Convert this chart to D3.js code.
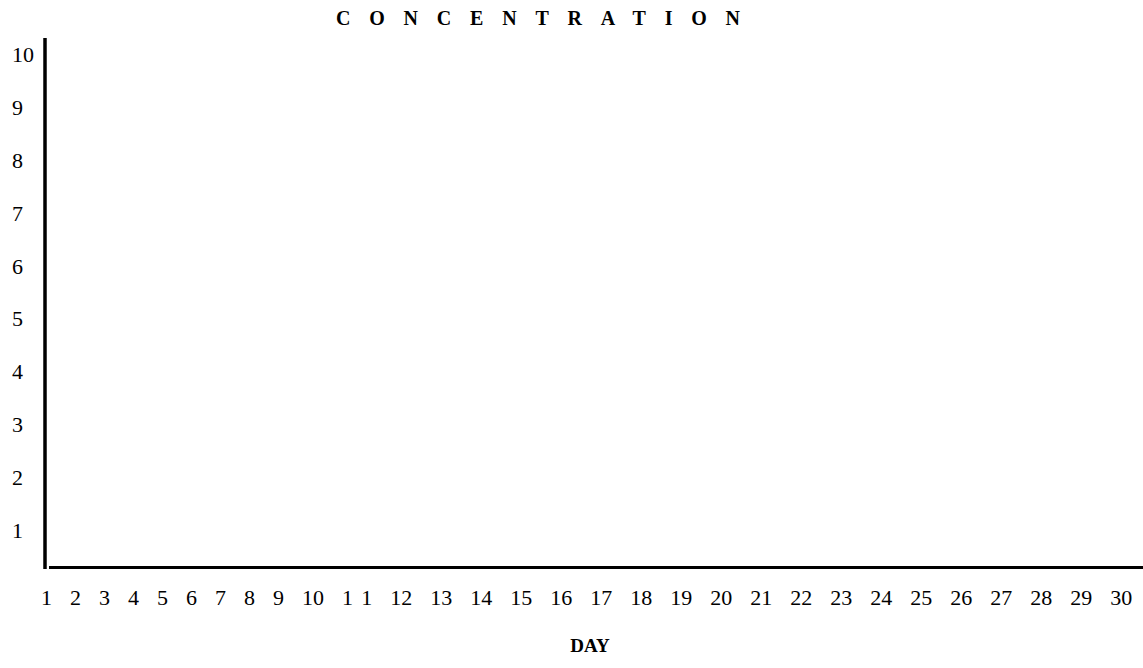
<!DOCTYPE html>
<html>
<head>
<meta charset="utf-8">
<script src="https://cdn.jsdelivr.net/npm/d3@7"></script>
<style>
  html, body { margin: 0; padding: 0; background: #fff; }
  svg { display: block; }
  text { font-family: "Liberation Serif", "Times New Roman", serif; fill: #000; }
</style>
</head>
<body>
<svg id="chart" width="1143" height="668"></svg>
<script>
// ---- data ----
const title = "CONCENTRATION";
const xTitle = "DAY";
const yTickLabels = ["1", "2", "3", "4", "5", "6", "7", "8", "9", "10"];
const yTickValues = [1, 2, 3, 4, 5, 6, 7, 8, 9, 10];
const dayLabels = ["1","2","3","4","5","6","7","8","9","10","11","12","13","14","15",
                   "16","17","18","19","20","21","22","23","24","25","26","27","28","29","30"];

// ---- layout ----
const W = 1143, H = 668;
const svg = d3.select("#chart");

const y = d3.scaleLinear().domain([1, 10]).range([538, 62]);

// y axis line
svg.append("line")
  .attr("x1", 45).attr("x2", 45)
  .attr("y1", 38).attr("y2", 569)
  .attr("stroke", "#000").attr("stroke-width", 3.5);

// x axis line
svg.append("line")
  .attr("x1", 49).attr("x2", W)
  .attr("y1", 567.5).attr("y2", 567.5)
  .attr("stroke", "#000").attr("stroke-width", 3);

// y tick labels
svg.append("g").selectAll("text")
  .data(yTickValues)
  .join("text")
  .attr("x", 12)
  .attr("y", d => y(d))
  .attr("font-size", 22)
  .text((d, i) => yTickLabels[i]);

// x tick labels (laid out sequentially, like a spaced text row)
const gap = 18.0, wide = 9;
const xt = svg.append("text")
  .attr("x", 41)
  .attr("y", 605)
  .attr("font-size", 22);
xt.selectAll("tspan")
  .data(dayLabels)
  .join("tspan")
  .attr("dx", (d, i) => i === 0 ? 0 : (dayLabels[i - 1] === "11" ? gap - wide : gap))
  .style("letter-spacing", d => d === "11" ? wide + "px" : null)
  .text(d => d);

// title
const ls = 18.8;
svg.append("text")
  .attr("x", 538 + ls / 2)
  .attr("y", 25)
  .attr("text-anchor", "middle")
  .attr("font-size", 20)
  .attr("font-weight", "bold")
  .style("letter-spacing", ls + "px")
  .text(title);

// x title
svg.append("text")
  .attr("x", 590)
  .attr("y", 652)
  .attr("text-anchor", "middle")
  .attr("font-size", 19)
  .attr("font-weight", "bold")
  .text(xTitle);
</script>
</body>
</html>
